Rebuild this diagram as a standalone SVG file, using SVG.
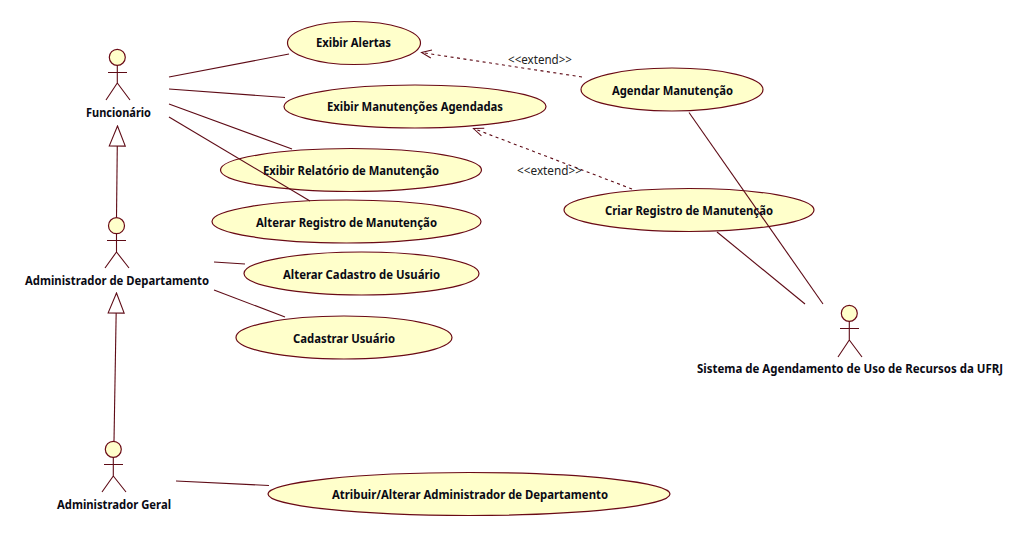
<svg xmlns="http://www.w3.org/2000/svg" width="1032" height="537" viewBox="0 0 1032 537">
<style>
.uc{fill:#ffffcb;stroke:#6a0a16;stroke-width:1.2}
.head{fill:#ffffcb;stroke:#6a0a16;stroke-width:1.2}
.fig{fill:none;stroke:#5e0b16;stroke-width:1.1}
.con{fill:none;stroke:#5e0b16;stroke-width:1.1}
.dash{stroke-dasharray:3 3.5;marker-end:url(#open)}
.gen{marker-end:url(#tri)}
text{font-family:"Noto Sans","DejaVu Sans",sans-serif;font-size:11.5px;font-weight:700;fill:#0a0a14;text-anchor:middle}
.st{font-weight:400;fill:#222;font-size:12px}
</style>
<defs>
<marker id="open" markerUnits="userSpaceOnUse" markerWidth="14" markerHeight="12" refX="12" refY="6" orient="auto"><path d="M2 2 L12 6 L2 10" fill="none" stroke="#5e0b16" stroke-width="1"/></marker>
<marker id="tri" markerUnits="userSpaceOnUse" markerWidth="22" markerHeight="20" refX="21" refY="10" orient="auto"><path d="M1 2 L21 10 L1 18 Z" fill="#fff" stroke="#5e0b16" stroke-width="1.1"/></marker>
</defs>
<rect width="1032" height="537" fill="#fff"/>
<g id="uc-alertas"><ellipse class="uc" cx="354" cy="43" rx="66.500" ry="21.500"/><text x="353.500" y="47" textLength="75" lengthAdjust="spacingAndGlyphs">Exibir Alertas</text></g>
<g id="uc-agendadas"><ellipse class="uc" cx="415" cy="106.500" rx="131" ry="21.500"/><text x="415" y="111" textLength="176" lengthAdjust="spacingAndGlyphs">Exibir Manutenções Agendadas</text></g>
<g id="uc-relatorio"><ellipse class="uc" cx="351" cy="170" rx="130.500" ry="21.500"/><text x="351" y="175" textLength="176" lengthAdjust="spacingAndGlyphs">Exibir Relatório de Manutenção</text></g>
<g id="uc-registro"><ellipse class="uc" cx="346.500" cy="221.500" rx="134.500" ry="21.500"/><text x="346.500" y="227" textLength="181" lengthAdjust="spacingAndGlyphs">Alterar Registro de Manutenção</text></g>
<g id="uc-cadastro"><ellipse class="uc" cx="361.500" cy="273.500" rx="117.500" ry="21.500"/><text x="361.500" y="279" textLength="157" lengthAdjust="spacingAndGlyphs">Alterar Cadastro de Usuário</text></g>
<g id="uc-cadastrar"><ellipse class="uc" cx="344" cy="337.500" rx="108" ry="21.500"/><text x="344" y="343" textLength="102" lengthAdjust="spacingAndGlyphs">Cadastrar Usuário</text></g>
<g id="uc-atribuir"><ellipse class="uc" cx="469" cy="494" rx="201" ry="21.500"/><text x="470" y="499" textLength="276" lengthAdjust="spacingAndGlyphs">Atribuir/Alterar Administrador de Departamento</text></g>
<g id="uc-agendar"><ellipse class="uc" cx="672" cy="89.500" rx="91" ry="21.500"/><text x="672.500" y="95" textLength="121" lengthAdjust="spacingAndGlyphs">Agendar Manutenção</text></g>
<g id="uc-criar"><ellipse class="uc" cx="689" cy="210" rx="125" ry="21.500"/><text x="689" y="215" textLength="168" lengthAdjust="spacingAndGlyphs">Criar Registro de Manutenção</text></g>
<g id="actor-funcionario"><circle class="head" cx="117.300" cy="57.300" r="8"/><path class="fig" d="M117.300 65.300V83M108 72.500H127M117.300 83L106 100M117.300 83L130 100"/><text x="118.500" y="117" textLength="65" lengthAdjust="spacingAndGlyphs">Funcionário</text></g>
<g id="actor-departamento"><circle class="head" cx="116.500" cy="225.700" r="8"/><path class="fig" d="M116.500 233.700V252M107 240.500H126M116.500 252L105 268M116.500 252L129 268"/><text x="117" y="285" textLength="184" lengthAdjust="spacingAndGlyphs">Administrador de Departamento</text></g>
<g id="actor-geral"><circle class="head" cx="113.300" cy="449.300" r="8"/><path class="fig" d="M113.300 457.300V476M104 464.500H123M113.300 476L102 492M113.300 476L126 492"/><text x="114" y="509" textLength="114" lengthAdjust="spacingAndGlyphs">Administrador Geral</text></g>
<g id="actor-sistema"><circle class="head" cx="849.300" cy="313.300" r="8"/><path class="fig" d="M849.300 321.300V340M840 328.500H859M849.300 340L838 357M849.300 340L862 357"/><text x="850" y="373" textLength="306" lengthAdjust="spacingAndGlyphs">Sistema de Agendamento de Uso de Recursos da UFRJ</text></g>
<g id="connectors">
<path class="con" d="M169 77L289 54"/>
<path class="con" d="M169 89L285 97.500"/>
<path class="con" d="M169 104L292 149"/>
<path class="con" d="M169 117L310 201"/>
<path class="con" d="M214 262L245 264"/>
<path class="con" d="M214 290L285 317"/>
<path class="con" d="M176 481L269 485.500"/>
<path class="con" d="M689 112.500L823 304"/>
<path class="con" d="M717 232L805 304"/>
<path class="con gen" d="M116.500 217L117.500 126"/>
<path class="con gen" d="M114 441L116.500 293"/>
<path class="con dash" d="M582 77L421.500 52.500"/>
<path class="con dash" d="M632 189L473.500 128.500"/>
<text class="st" x="540" y="64" textLength="64" lengthAdjust="spacingAndGlyphs">&lt;&lt;extend&gt;&gt;</text>
<text class="st" x="549.500" y="175" textLength="65" lengthAdjust="spacingAndGlyphs">&lt;&lt;extend&gt;&gt;</text>
</g>
</svg>
